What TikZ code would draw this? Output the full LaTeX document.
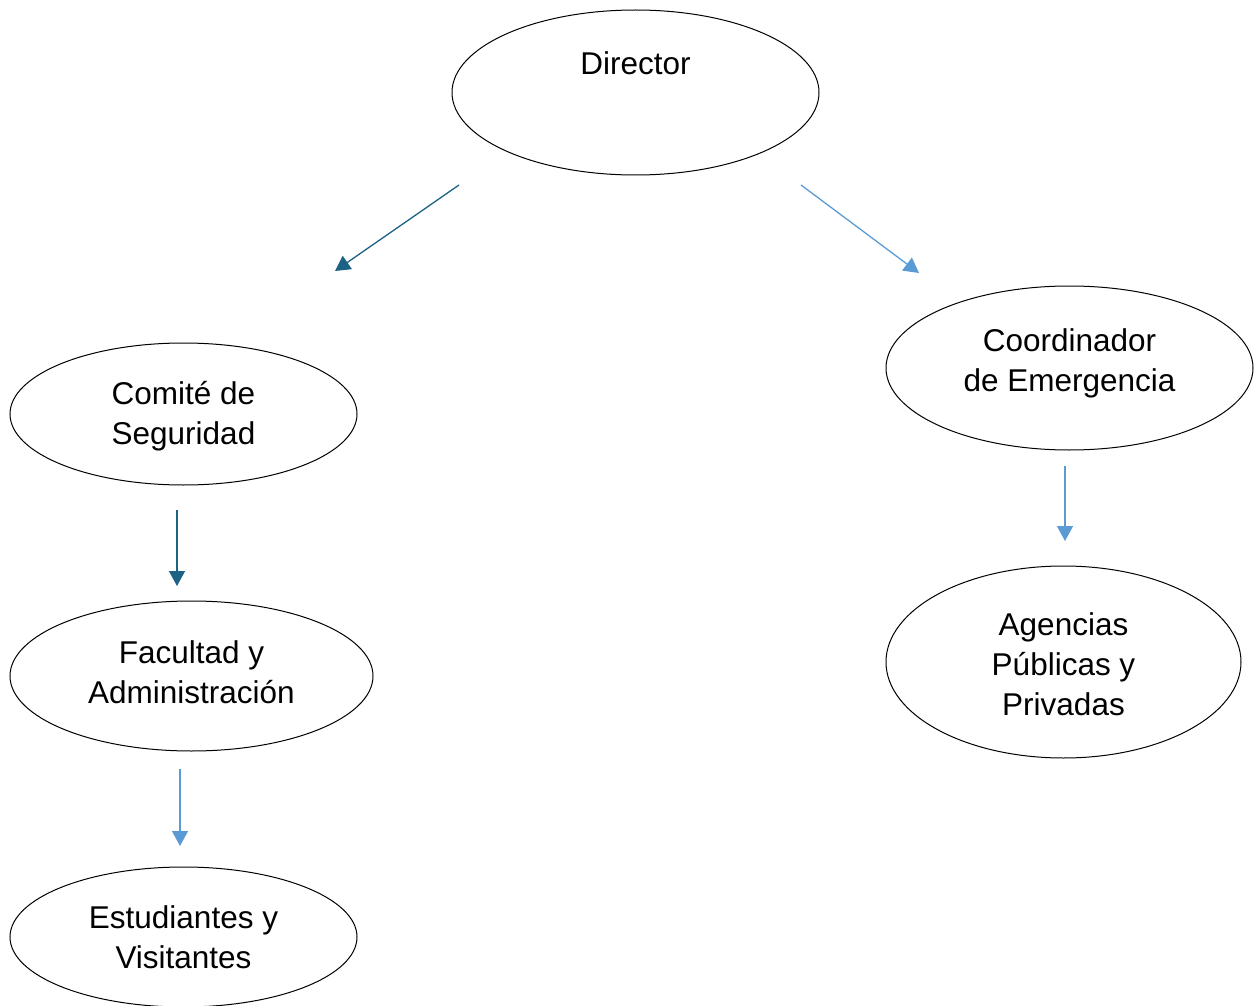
\documentclass[tikz,border=0pt]{standalone}
\usepackage{fontspec}
\setmainfont{Liberation Sans}
\usetikzlibrary{shapes.geometric,arrows.meta}
\definecolor{darkblue}{HTML}{1B6284}
\definecolor{lightblue}{HTML}{5B9BD5}
\begin{document}
\begin{tikzpicture}[x=0.5pt,y=-0.5pt,
  oval/.style={draw=black,line width=0.5pt,ellipse,inner sep=0pt,align=center,
    font=\fontsize{15.75pt}{20pt}\selectfont},
  lbl/.style={inner sep=0pt,align=center,font=\fontsize{15.75pt}{20pt}\selectfont},
  darrow/.style={draw=darkblue,line width=0.65pt,-{Triangle[length=7.5pt,width=8pt]}},
  larrow/.style={draw=lightblue,line width=0.65pt,-{Triangle[length=7.5pt,width=8pt]}}]
\useasboundingbox (0,0) rectangle (1254,1006);
\node[oval,minimum width=183.5pt,minimum height=82.5pt] (dir) at (635.5,92.5) {};
\node[lbl] (dirtext) at (635.5,63.5) {Director};
\node[oval,minimum width=173.5pt,minimum height=71pt] (comite) at (183.5,414) {};
\node[lbl] (comtext) at (183.5,416) {Comité de\\Seguridad};
\node[oval,minimum width=181.5pt,minimum height=75pt] (facultad) at (191.5,676) {};
\node[lbl] (factext) at (191.5,672.5) {Facultad y\\Administración};
\node[oval,minimum width=173.5pt,minimum height=70pt] (estud) at (183.5,937) {Estudiantes y\\Visitantes};
\node[oval,minimum width=183.5pt,minimum height=82pt] (coord) at (1069.5,368) {};
\node[lbl] (coordtext) at (1069.5,363) {Coordinador\\de Emergencia};
\node[oval,minimum width=177.5pt,minimum height=96pt] (agen) at (1063.5,662) {};
\node[lbl] (agentext) at (1063.5,664) {Agencias\\Públicas y\\Privadas};
\coordinate (a1s) at (459,185);
\coordinate (a1e) at (335,271);
\coordinate (a2s) at (801,185);
\coordinate (a2e) at (919,273);
\coordinate (a3s) at (177,510);
\coordinate (a3e) at (177,586);
\coordinate (a4s) at (1065,466);
\coordinate (a4e) at (1065,541);
\coordinate (a5s) at (180,769);
\coordinate (a5e) at (180,846);
\draw[darrow] (a1s) -- (a1e);
\draw[larrow] (a2s) -- (a2e);
\draw[darrow] (a3s) -- (a3e);
\draw[larrow] (a4s) -- (a4e);
\draw[larrow] (a5s) -- (a5e);
\end{tikzpicture}
\end{document}
